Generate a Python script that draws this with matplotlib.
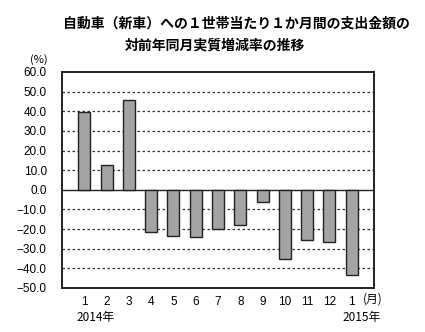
import matplotlib
matplotlib.use('Agg')
from matplotlib import pyplot as plt
import numpy as np

plt.rcParams['font.family'] = ['Noto Sans CJK JP', 'DejaVu Sans']

# 自動車（新車）支出金額の対前年同月実質増減率 (%)
months = ['1', '2', '3', '4', '5', '6', '7', '8', '9', '10', '11', '12', '1']
rates = [39.6, 12.7, 45.9, -21.6, -23.3, -23.8, -20.0, -17.8, -6.0,
         -35.4, -25.7, -26.8, -43.6]
yticks = [60, 50, 40, 30, 20, 10, 0, -10, -20, -30, -40, -50]

fig = plt.figure(figsize=(4.25, 3.32), dpi=100)
ax = fig.add_axes([62/425, 1 - 288/332, 312/425, 216/332])

x = np.arange(1, len(rates) + 1)
ax.bar(x, rates, width=0.54, color='#a3a3a3', edgecolor='#222222',
       linewidth=1.0, zorder=3)

ax.set_xlim(0, len(rates) + 1)
ax.set_ylim(-50, 60)
ax.set_yticks(yticks)
ax.set_yticklabels([('%.1f' % v).replace('-', '\u2212') for v in yticks],
                   fontsize=8.5, family=['Liberation Sans'])
ax.set_xticks(x)
ax.set_xticklabels(months, fontsize=8.5, family=['Liberation Sans'])
ax.tick_params(axis='y', length=0, pad=11)
ax.tick_params(axis='x', length=0, pad=6)

# 破線の目盛線と0の実線
for v in yticks[1:-1]:
    if v == 0:
        ax.axhline(v, color='#222222', lw=1.0, zorder=2)
    else:
        ax.axhline(v, color='#333333', lw=0.9, ls=(0, (2, 2)), zorder=1)

for s in ax.spines.values():
    s.set_linewidth(1.4)
    s.set_color('#222222')

fig.text(236/425, 1 - 24/332, '自動車（新車）への１世帯当たり１か月間の支出金額の',
         ha='center', va='center', fontsize=10, weight='bold')
fig.text(215/425, 1 - 46/332, '対前年同月実質増減率の推移',
         ha='center', va='center', fontsize=10, weight='bold')
fig.text(39/425, 1 - 60/332, '(%)', ha='center', va='center', fontsize=8)
fig.text(363/425, 1 - 299/332, '(月)', ha='left', va='center', fontsize=8.5)
fig.text(96/425, 1 - 317/332, '2014年', ha='center', va='center', fontsize=8.5)
fig.text(362/425, 1 - 317/332, '2015年', ha='center', va='center', fontsize=8.5)

fig.savefig('out.png', dpi=100)
